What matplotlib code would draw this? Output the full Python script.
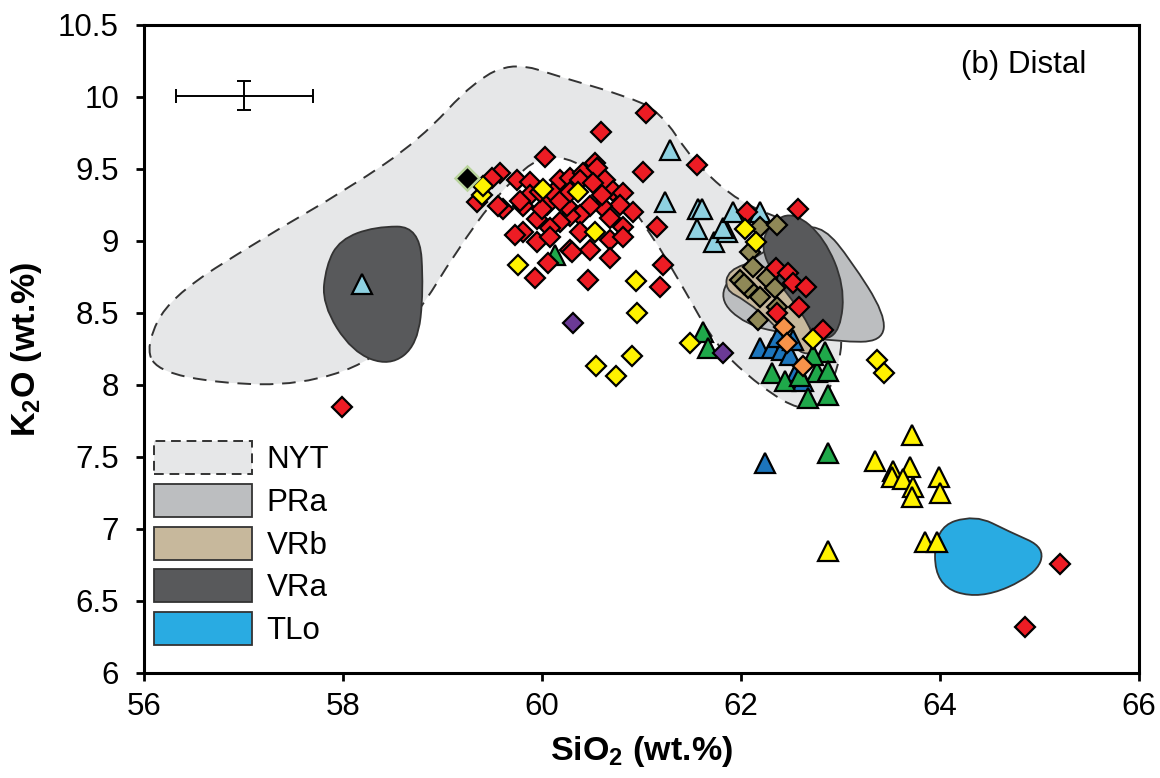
import numpy as np
import matplotlib
matplotlib.use("Agg")
import matplotlib.pyplot as plt
from matplotlib.path import Path
from matplotlib.patches import PathPatch, Patch

plt.rcParams['font.family'] = ['Liberation Sans', 'DejaVu Sans']
plt.rcParams['mathtext.fontset'] = 'custom'
plt.rcParams['mathtext.rm'] = 'Liberation Sans'
plt.rcParams['mathtext.bf'] = 'Liberation Sans:bold'

# ---------------- data ----------------
red_x = [60.03, 59.58, 59.50, 59.75, 59.35, 59.61, 59.56, 59.88, 59.88, 60.05, 60.18, 60.28, 60.41,
         60.53, 60.55, 60.63, 60.71, 60.81, 60.78, 60.91, 60.81, 60.68, 60.60, 60.48, 60.38, 60.28,
         60.18, 60.08, 59.95, 59.81, 59.81, 59.95, 60.08, 60.25, 60.11, 60.38, 60.51, 60.60, 60.38,
         60.28, 60.48, 60.68, 60.81, 60.68, 59.78, 60.00, 60.18, 60.28, 59.98, 59.93, 60.46, 60.30,
         60.06, 59.73,
         57.99, 60.59, 61.05, 61.02, 61.56, 61.16, 61.22, 61.19,
         62.06, 62.57, 62.35, 62.47, 62.52, 62.65, 62.58, 62.36, 62.82,
         65.21, 64.85]
red_y = [9.58, 9.47, 9.44, 9.42, 9.27, 9.22, 9.24, 9.41, 9.32, 9.25, 9.42, 9.44, 9.47,
         9.54, 9.51, 9.42, 9.35, 9.33, 9.25, 9.20, 9.10, 9.16, 9.24, 9.24, 9.18, 9.17,
         9.13, 9.09, 9.15, 9.24, 9.06, 8.99, 9.03, 9.24, 9.33, 9.42, 9.40, 9.32, 9.06,
         8.94, 8.94, 9.01, 9.03, 8.88, 9.28, 9.22, 9.28, 9.34, 9.34, 8.74, 8.73, 8.92,
         8.85, 9.04,
         7.85, 9.76, 9.89, 9.48, 9.53, 9.10, 8.83, 8.68,
         9.20, 9.22, 8.81, 8.78, 8.71, 8.68, 8.54, 8.50, 8.38,
         6.76, 6.32]

yellow_d_x = [59.40, 59.41, 60.01, 60.36, 60.53, 59.76, 60.94, 60.95, 60.90, 60.54, 60.74, 61.49,
              63.37, 63.44, 62.04, 62.15, 62.72]
yellow_d_y = [9.32, 9.38, 9.36, 9.34, 9.06, 8.83, 8.72, 8.50, 8.20, 8.13, 8.06, 8.29,
              8.17, 8.08, 9.08, 8.99, 8.32]

yellow_t_x = [63.72, 63.35, 63.53, 63.52, 63.70, 63.63, 63.73, 63.72, 63.99, 64.00, 63.85, 63.97, 62.87]
yellow_t_y = [7.65, 7.47, 7.40, 7.36, 7.43, 7.35, 7.29, 7.22, 7.36, 7.25, 6.91, 6.91, 6.85]

green_x = [60.13, 61.62, 61.67, 62.31, 62.44, 62.84, 62.76, 62.87, 62.67, 62.87, 62.59, 62.72, 62.87]
green_y = [8.90, 8.37, 8.26, 8.08, 8.03, 8.23, 8.09, 8.10, 7.91, 7.93, 8.06, 8.21, 7.53]

blue_x = [62.19, 62.31, 62.41, 62.49, 62.56, 62.37, 62.52, 62.62, 62.24]
blue_y = [8.26, 8.26, 8.24, 8.21, 8.10, 8.33, 8.31, 8.03, 7.46]

cyan_x = [58.19, 61.29, 61.24, 61.57, 61.61, 61.56, 61.73, 61.86, 61.82, 61.92, 62.19]
cyan_y = [8.70, 9.63, 9.27, 9.22, 9.22, 9.08, 8.99, 9.06, 9.09, 9.20, 9.20]

orange_x = [62.43, 62.46, 62.62]
orange_y = [8.40, 8.29, 8.13]

purple_x = [60.31, 61.82]
purple_y = [8.43, 8.22]

black_x = [59.25]
black_y = [9.44]

olive_x = [62.19, 62.36, 62.09, 62.12, 61.99, 62.07, 62.26, 62.34, 62.19, 62.36, 62.17, 62.03]
olive_y = [9.10, 9.11, 8.92, 8.82, 8.73, 8.67, 8.74, 8.67, 8.61, 8.54, 8.45, 8.70]

# field outlines (control points of smooth closed curves)
nyt_x = [56.02, 56.26, 57.17, 58.07, 58.77, 59.33, 59.73, 60.18, 60.83, 61.19, 61.51, 61.99, 62.59,
         63.08, 62.88, 62.62, 62.19, 61.75, 61.45, 61.09, 60.73, 60.08, 59.58, 59.13, 58.75, 58.29,
         57.57, 56.76, 56.12]
nyt_y = [8.28, 8.61, 9.01, 9.37, 9.70, 10.12, 10.24, 10.14, 10.01, 9.90, 9.56, 9.26, 9.11,
         8.42, 7.90, 7.81, 7.99, 8.27, 8.64, 9.06, 9.39, 9.65, 9.35, 8.92, 8.49, 8.16,
         8.00, 8.01, 8.10]
vra1_x = [57.97, 58.32, 58.77, 58.81, 58.75, 58.47, 58.09, 57.79, 57.83]
vra1_y = [9.01, 9.10, 9.10, 8.66, 8.28, 8.13, 8.23, 8.56, 8.83]
vra2_x = [62.31, 62.54, 62.84, 63.04, 63.00, 62.82, 62.63, 62.35, 62.19]
vra2_y = [9.14, 9.20, 9.02, 8.69, 8.38, 8.30, 8.44, 8.74, 8.96]
pra_x = [62.59, 62.84, 63.10, 63.45, 63.42, 62.99, 62.49, 62.04, 61.77, 61.94, 62.34]
pra_y = [9.10, 9.09, 8.87, 8.49, 8.30, 8.30, 8.35, 8.42, 8.60, 8.80, 8.97]
vrb_x = [61.87, 62.19, 62.44, 62.69, 62.77, 62.59, 62.34, 62.04, 61.84]
vrb_y = [8.80, 8.87, 8.66, 8.42, 8.23, 8.21, 8.42, 8.59, 8.66]
tlo_x = [63.95, 64.35, 64.70, 65.06, 64.96, 64.40, 63.95]
tlo_y = [7.01, 7.10, 6.98, 6.87, 6.68, 6.51, 6.61]

legend_labels = ['NYT', 'PRa', 'VRb', 'VRa', 'TLo']
x_ticks = [56, 58, 60, 62, 64, 66]
y_ticks = [6, 6.5, 7, 7.5, 8, 8.5, 9, 9.5, 10, 10.5]
y_ticklabels = ['6', '6.5', '7', '7.5', '8', '8.5', '9', '9.5', '10', '10.5']

# ---------------- colours ----------------
C_NYT = '#e6e7e8'
C_PRA = '#bcbec0'
C_VRB = '#c7b89c'
C_VRA = '#58595b'
C_TLO = '#29abe2'
EDGE = '#333333'


def smooth_path(xs, ys):
    v = np.column_stack([xs, ys])
    mids = (v + np.roll(v, -1, axis=0)) / 2.0
    verts = [mids[-1]]
    codes = [Path.MOVETO]
    for i in range(len(v)):
        verts += [v[i], mids[i]]
        codes += [Path.CURVE3, Path.CURVE3]
    verts.append(mids[-1])
    codes.append(Path.CLOSEPOLY)
    return Path(verts, codes)


fig = plt.figure(figsize=(11.6, 7.78), dpi=100)
ax = fig.add_axes([0.1241, 0.1350, 0.8578, 0.8329])

ax.add_patch(PathPatch(smooth_path(nyt_x, nyt_y), facecolor=C_NYT, edgecolor='#333333',
                       lw=1.4, ls=(0, (7, 4.5)), zorder=1))
ax.add_patch(PathPatch(smooth_path(pra_x, pra_y), facecolor=C_PRA, edgecolor=EDGE, lw=1.3, zorder=2))
ax.add_patch(PathPatch(smooth_path(vra1_x, vra1_y), facecolor=C_VRA, edgecolor=EDGE, lw=1.3, zorder=2))
ax.add_patch(PathPatch(smooth_path(vra2_x, vra2_y), facecolor=C_VRA, edgecolor=EDGE, lw=1.3, zorder=3))
ax.add_patch(PathPatch(smooth_path(vrb_x, vrb_y), facecolor=C_VRB, edgecolor=EDGE, lw=1.3, zorder=4))
ax.add_patch(PathPatch(smooth_path(tlo_x, tlo_y), facecolor=C_TLO, edgecolor=EDGE, lw=1.3, zorder=2))

dkw = dict(marker='D', ms=10.5, mec='black', mew=1.6, ls='none')
tkw = dict(marker='^', ms=14, mec='black', mew=1.6, ls='none')

ax.plot(cyan_x, cyan_y, mfc='#8ed1e1', zorder=5, **tkw)
ax.plot(olive_x, olive_y, mfc='#8f8857', zorder=5, **dkw)
ax.plot(blue_x, blue_y, mfc='#1c75bc', zorder=6, **tkw)
ax.plot(green_x, green_y, mfc='#1fa84a', zorder=7, **tkw)
ax.plot(purple_x, purple_y, mfc='#6b3a96', zorder=7, **dkw)
ax.plot(red_x, red_y, mfc='#ed1c24', zorder=8, **dkw)
ax.plot(yellow_d_x, yellow_d_y, mfc='#fff200', zorder=9, **dkw)
ax.plot(yellow_t_x, yellow_t_y, mfc='#fff200', zorder=9, **tkw)
ax.plot(orange_x, orange_y, mfc='#f7934a', zorder=9, **dkw)
ax.plot(black_x, black_y, marker='D', ms=12, mfc='black', mec='#b9d49c', mew=1.8, ls='none', zorder=10)

# analytical error bar
ax.errorbar([57.01], [10.01], xerr=[0.69], yerr=[0.10], fmt='none', ecolor='black',
            elinewidth=1.4, capsize=5, capthick=1.4, zorder=10)

ax.text(0.947, 0.938, '(b) Distal', transform=ax.transAxes, ha='right', va='center', fontsize=22.5)

ax.set_xlim(56, 66)
ax.set_ylim(6, 10.5)
ax.set_xticks(x_ticks)
ax.set_xticklabels([str(t) for t in x_ticks])
ax.set_yticks(y_ticks)
ax.set_yticklabels(y_ticklabels)
ax.tick_params(axis='both', direction='out', length=6, width=2, labelsize=22.5)
ax.tick_params(axis='x', pad=8)
ax.tick_params(axis='y', pad=12)
for s in ax.spines.values():
    s.set_linewidth(2.2)

ax.set_xlabel(r'SiO$_\mathbf{2}$ (wt.%)', fontsize=24.5, fontweight='bold', labelpad=8)
ax.set_ylabel(r'K$_\mathbf{2}$O (wt.%)', fontsize=24.5, fontweight='bold', labelpad=10)

handles = [
    Patch(facecolor=C_NYT, edgecolor='#333333', lw=1.4, ls=(0, (5, 3))),
    Patch(facecolor=C_PRA, edgecolor=EDGE, lw=1.3),
    Patch(facecolor=C_VRB, edgecolor=EDGE, lw=1.3),
    Patch(facecolor=C_VRA, edgecolor=EDGE, lw=1.3),
    Patch(facecolor=C_TLO, edgecolor=EDGE, lw=1.3),
]
ax.legend(handles, legend_labels, loc='upper left', bbox_to_anchor=(0.010, 0.358),
          frameon=False, fontsize=22.5, handlelength=3.15, handleheight=1.25,
          handletextpad=0.45, labelspacing=0.28, borderpad=0, borderaxespad=0)

fig.savefig('out.png', dpi=100)
